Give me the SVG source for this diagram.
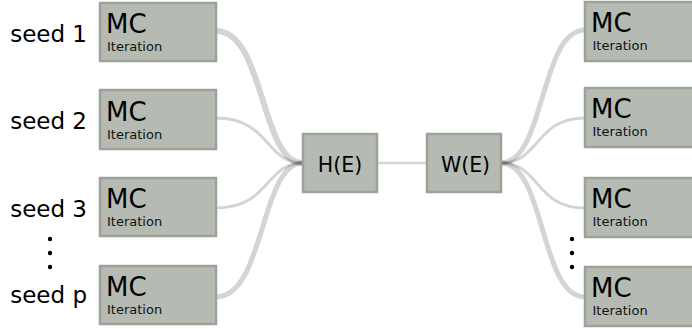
<svg xmlns="http://www.w3.org/2000/svg" width="692" height="329" viewBox="0 0 692 329">
<style>
.box{fill:#b5bbb3;stroke:#9ca298;stroke-width:2.5}
.mc{font-family:"DejaVu Sans",sans-serif;font-size:26px;fill:#000}
.it{font-family:"DejaVu Sans",sans-serif;font-size:13px;fill:#111}
.seed{font-family:"DejaVu Sans",sans-serif;font-size:23px;fill:#000;text-anchor:end}
.lbl{font-family:"DejaVu Sans",sans-serif;font-size:20.5px;fill:#000;text-anchor:middle}
.c{fill:none;stroke:#000;stroke-opacity:0.17}
</style>
<rect width="692" height="329" fill="#fff"/>
<g id="connectors">
<path class="c" stroke-width="6" d="M216,31 C265,31 260,163 303,163"/>
<path class="c" stroke-width="3" d="M216,118 C270,118 265,163 303,163"/>
<path class="c" stroke-width="3" d="M216,208 C270,208 265,163 303,163"/>
<path class="c" stroke-width="5" d="M216,297 C265,297 260,163 303,163"/>
<path class="c" stroke-width="2.5" d="M377,163 L427,163"/>
<path class="c" stroke-width="5" d="M501,163 C545,163 540,30 585,30"/>
<path class="c" stroke-width="3" d="M501,163 C540,163 535,118 585,118"/>
<path class="c" stroke-width="3" d="M501,163 C540,163 535,208 585,208"/>
<path class="c" stroke-width="5" d="M501,163 C545,163 540,297 585,297"/>
</g>
<g id="seeds">
<text class="seed" x="87" y="41.5">seed 1</text>
<text class="seed" x="87" y="129">seed 2</text>
<text class="seed" x="87" y="217">seed 3</text>
<text class="seed" x="87" y="303">seed p</text>
<circle cx="50" cy="239" r="2.2"/>
<circle cx="50" cy="253" r="2.2"/>
<circle cx="50" cy="267" r="2.2"/>
<circle cx="572" cy="239" r="2.2"/>
<circle cx="572" cy="253" r="2.2"/>
<circle cx="572" cy="267" r="2.2"/>
</g>
<g id="mcL1"><rect class="box" x="100" y="3" width="116" height="58"/><text class="mc" x="106" y="33">MC</text><text class="it" x="107" y="50.5">Iteration</text></g>
<g id="mcL2"><rect class="box" x="100" y="90" width="116" height="59"/><text class="mc" x="106" y="121">MC</text><text class="it" x="107" y="138.5">Iteration</text></g>
<g id="mcL3"><rect class="box" x="100" y="178" width="116" height="58"/><text class="mc" x="106" y="208">MC</text><text class="it" x="107" y="225.5">Iteration</text></g>
<g id="mcLp"><rect class="box" x="100" y="266" width="116" height="58"/><text class="mc" x="106" y="296">MC</text><text class="it" x="107" y="313.5">Iteration</text></g>
<g id="H"><rect class="box" x="303" y="134" width="74" height="58"/><text class="lbl" x="340" y="171.5">H(E)</text></g>
<g id="W"><rect class="box" x="427" y="134" width="74" height="58"/><text class="lbl" x="465.5" y="171.5">W(E)</text></g>
<g id="mcR1"><rect class="box" x="585" y="2" width="116" height="59"/><text class="mc" x="591" y="32">MC</text><text class="it" x="592.5" y="49.5">Iteration</text></g>
<g id="mcR2"><rect class="box" x="585" y="88" width="116" height="59"/><text class="mc" x="591" y="118">MC</text><text class="it" x="592.5" y="136">Iteration</text></g>
<g id="mcR3"><rect class="box" x="585" y="178" width="116" height="59"/><text class="mc" x="591" y="208">MC</text><text class="it" x="592.5" y="226">Iteration</text></g>
<g id="mcRp"><rect class="box" x="585" y="267" width="116" height="59"/><text class="mc" x="591" y="297">MC</text><text class="it" x="592.5" y="315">Iteration</text></g>
</svg>
